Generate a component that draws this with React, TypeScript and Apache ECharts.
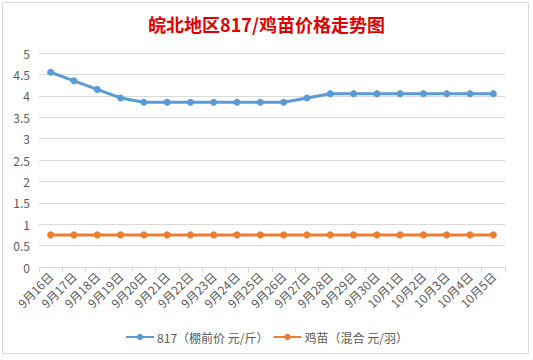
import React, { useEffect, useRef } from "react";
import * as echarts from "echarts";

const categories = [
  "9月16日", "9月17日", "9月18日", "9月19日", "9月20日", "9月21日", "9月22日",
  "9月23日", "9月24日", "9月25日", "9月26日", "9月27日", "9月28日", "9月29日",
  "9月30日", "10月1日", "10月2日", "10月3日", "10月4日", "10月5日",
];
const price817 = [4.55, 4.35, 4.15, 3.95, 3.85, 3.85, 3.85, 3.85, 3.85, 3.85, 3.85, 3.95, 4.05, 4.05, 4.05, 4.05, 4.05, 4.05, 4.05, 4.05];
const chickPrice = [0.75, 0.75, 0.75, 0.75, 0.75, 0.75, 0.75, 0.75, 0.75, 0.75, 0.75, 0.75, 0.75, 0.75, 0.75, 0.75, 0.75, 0.75, 0.75, 0.75];
const seriesNames = ["817（棚前价 元/斤）", "鸡苗（混合 元/羽）"];
const titleText = "皖北地区817/鸡苗价格走势图";

export default function App() {
  const ref = useRef<HTMLDivElement>(null);
  useEffect(() => {
    const chart = echarts.init(ref.current!, null, { renderer: "svg" });
    const font = "'Microsoft YaHei', 'Noto Sans CJK SC', sans-serif";
    chart.setOption({
      animation: false,
      backgroundColor: "#ffffff",
      title: {
        text: titleText,
        left: "center",
        top: 10,
        textStyle: { color: "#e00000", fontSize: 18, fontWeight: "bold", fontFamily: font },
      },
      legend: {
        bottom: 12,
        left: "center",
        itemWidth: 28,
        itemHeight: 8,
        itemGap: 4,
        textStyle: { color: "#595959", fontSize: 12, fontFamily: font, padding: [0, 0, 0, -2] },
        data: seriesNames,
      },
      grid: { left: 39, right: 28, top: 53, bottom: 93, containLabel: false },
      xAxis: {
        type: "category",
        data: categories,
        boundaryGap: true,
        axisLine: { lineStyle: { color: "#d9d9d9" } },
        axisTick: { show: true, length: 5, lineStyle: { color: "#d9d9d9" } },
        axisLabel: { rotate: 45, color: "#595959", fontSize: 12, fontFamily: font, interval: 0, margin: 7 },
      },
      yAxis: {
        type: "value",
        min: 0,
        max: 5,
        interval: 0.5,
        axisLine: { show: false },
        axisTick: { show: false },
        splitLine: { lineStyle: { color: "#d9d9d9" } },
        axisLabel: { color: "#595959", fontSize: 12, fontFamily: font, margin: 9 },
      },
      series: [
        {
          name: seriesNames[0],
          type: "line",
          data: price817,
          symbol: "circle",
          symbolSize: 7,
          lineStyle: { width: 3, color: "#5b9bd5" },
          itemStyle: { color: "#5b9bd5" },
        },
        {
          name: seriesNames[1],
          type: "line",
          data: chickPrice,
          symbol: "circle",
          symbolSize: 7,
          lineStyle: { width: 3, color: "#ed7d31" },
          itemStyle: { color: "#ed7d31" },
        },
      ],
      graphic: [
        {
          type: "rect",
          shape: { x: 2.5, y: 2.5, width: 526, height: 351 },
          style: { fill: "none", stroke: "#d9d9d9", lineWidth: 1 },
          silent: true,
        },
      ],
    });
    return () => chart.dispose();
  }, []);
  return <div ref={ref} style={{ width: 533, height: 360, position: "absolute", left: 0, top: 0 }} />;
}
